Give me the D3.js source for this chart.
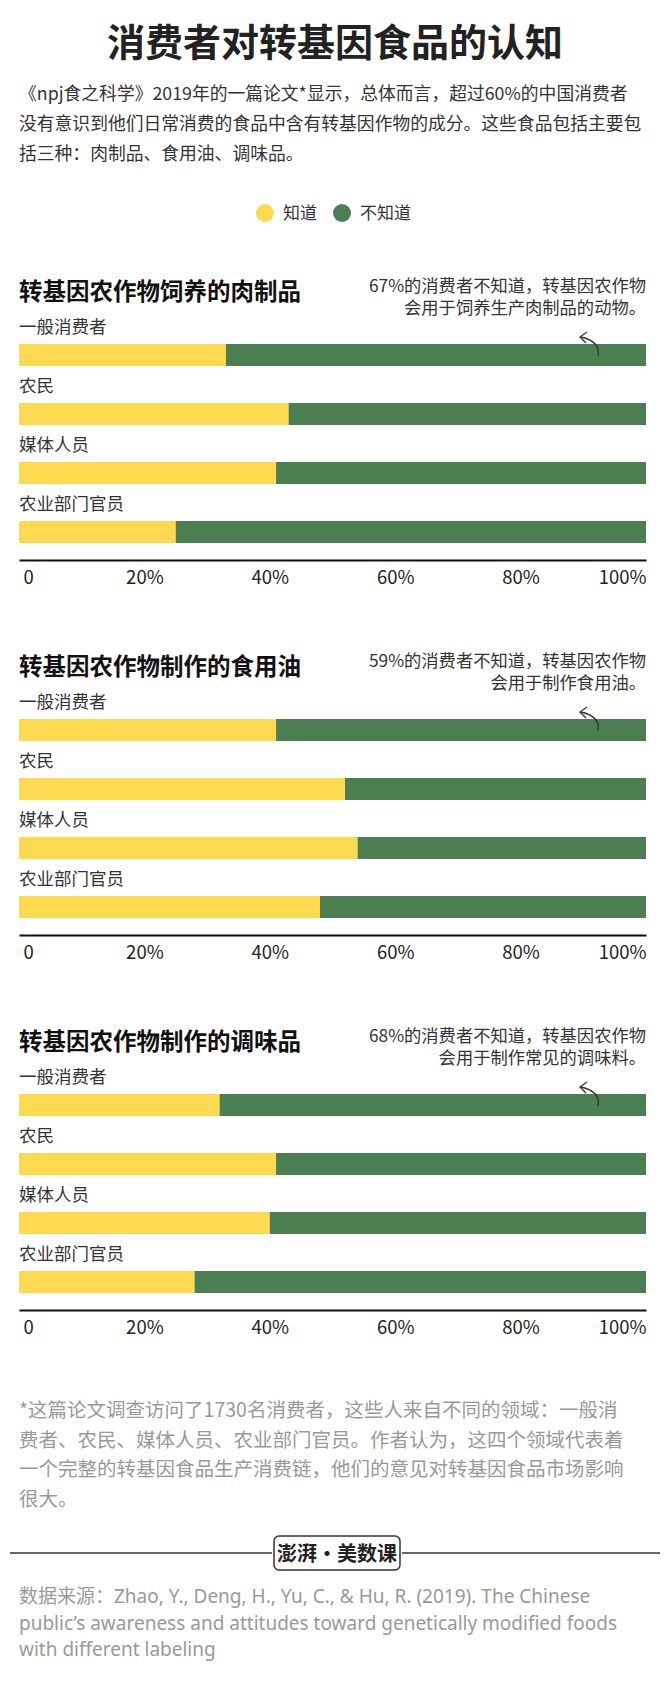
<!DOCTYPE html>
<html><head><meta charset="utf-8">
<script src="https://cdn.jsdelivr.net/npm/d3@7"></script>
<style>body{margin:0;background:#fff}text{font-family:"Noto Sans CJK SC","Noto Sans",sans-serif}.lat{font-family:"Noto Sans","Noto Sans CJK SC",sans-serif}</style>
</head><body><svg id="c" width="670" height="1699"></svg>
<script>
const groups = ["一般消费者", "农民", "媒体人员", "农业部门官员"];
const sectionTitles = ["转基因农作物饲养的肉制品", "转基因农作物制作的食用油", "转基因农作物制作的调味品"];
const notes = [
  ["67%的消费者不知道，转基因农作物", "会用于饲养生产肉制品的动物。"],
  ["59%的消费者不知道，转基因农作物", "会用于制作食用油。"],
  ["68%的消费者不知道，转基因农作物", "会用于制作常见的调味料。"]
];
const knowMeat = [33, 43, 41, 25];
const knowOil = [41, 52, 54, 48];
const knowSeasoning = [32, 41, 40, 28];
const ticks = [0, 20, 40, 60, 80, 100];

const YEL = "#fdda4f", GRN = "#4b7f52";
const svg = d3.select("#c");
const left = 19, right = 646;

svg.append("text").attr("x", 335).attr("y", 56).attr("text-anchor", "middle")
  .attr("font-size", 38).attr("font-weight", 700).attr("fill", "#222").text("消费者对转基因食品的认知");

const intro = ["《npj食之科学》2019年的一篇论文*显示，总体而言，超过60%的中国消费者",
  "没有意识到他们日常消费的食品中含有转基因作物的成分。这些食品包括主要包",
  "括三种：肉制品、食用油、调味品。"];
intro.forEach((t, i) => svg.append("text").attr("x", left).attr("y", 100 + i * 30)
  .attr("font-size", 17.8).attr("fill", "#333").text(t));

[[265, YEL, "知道"], [342, GRN, "不知道"]].forEach(([x, c, t]) => {
  svg.append("circle").attr("cx", x).attr("cy", 213).attr("r", 9).attr("fill", c);
  svg.append("text").attr("x", x + 18).attr("y", 219).attr("font-size", 17).attr("fill", "#333").text(t);
});

const x = d3.scaleLinear().domain([0, 100]).range([left, right]);

[knowMeat, knowOil, knowSeasoning].forEach((vals, s) => {
  const g = svg.append("g").attr("transform", `translate(0,${s * 375})`);
  g.append("text").attr("x", left).attr("y", 300).attr("font-size", 23.5).attr("font-weight", 700)
    .attr("fill", "#111").text(sectionTitles[s]);
  notes[s].forEach((t, i) => g.append("text").attr("x", right).attr("y", 292 + i * 22)
    .attr("text-anchor", "end").attr("font-size", 17.3).attr("fill", "#333").text(t));
  const y = d3.scaleBand().domain(groups).range([321, 557]).paddingInner(0);
  groups.forEach((grp, i) => {
    const yy = y(grp);
    g.append("text").attr("x", left).attr("y", yy + 12).attr("font-size", 17.5).attr("fill", "#333").text(grp);
    g.append("rect").attr("x", x(0)).attr("y", yy + 23).attr("width", x(vals[i]) - x(0)).attr("height", 22).attr("fill", YEL);
    g.append("rect").attr("x", x(vals[i])).attr("y", yy + 23).attr("width", x(100) - x(vals[i])).attr("height", 22).attr("fill", GRN);
  });
  // arrow
  g.append("path").attr("d", "M598,356 C600,346 594,340 581,337").attr("fill", "none").attr("stroke", "#333").attr("stroke-width", 1.3);
  g.append("path").attr("d", "M587,332 L580,337 L586,343").attr("fill", "none").attr("stroke", "#333").attr("stroke-width", 1.3);
  // axis
  const ax = g.append("g").attr("transform", "translate(0,560)")
    .call(d3.axisBottom(x).tickValues(ticks).tickSize(0).tickPadding(11).tickFormat(d => d === 0 ? "0" : d + "%"));
  ax.select(".domain").attr("stroke", "#111").attr("stroke-width", 2);
  ax.selectAll("text").attr("font-size", 18.5).attr("fill", "#222")
    .attr("text-anchor", d => d === 0 ? "start" : d === 100 ? "end" : "middle")
    .attr("dx", d => d === 0 ? 4 : 0);
});

const foot = ["*这篇论文调查访问了1730名消费者，这些人来自不同的领域：一般消",
  "费者、农民、媒体人员、农业部门官员。作者认为，这四个领域代表着",
  "一个完整的转基因食品生产消费链，他们的意见对转基因食品市场影响", "很大。"];
foot.forEach((t, i) => svg.append("text").attr("x", left).attr("y", 1417 + i * 29.5)
  .attr("font-size", 19.5).attr("fill", "#999").text(t));

svg.append("line").attr("x1", 10).attr("x2", 272).attr("y1", 1553).attr("y2", 1553).attr("stroke", "#333").attr("stroke-width", 1.3);
svg.append("line").attr("x1", 402).attr("x2", 660).attr("y1", 1553).attr("y2", 1553).attr("stroke", "#333").attr("stroke-width", 1.3);
svg.append("rect").attr("x", 274).attr("y", 1536).attr("width", 126).attr("height", 34).attr("rx", 5)
  .attr("fill", "#fff").attr("stroke", "#333").attr("stroke-width", 1.5);
svg.append("text").attr("x", 337).attr("y", 1561).attr("text-anchor", "middle").attr("font-size", 20)
  .attr("font-weight", 700).attr("fill", "#222").text("澎湃·美数课");

const src = ["数据来源：Zhao, Y., Deng, H., Yu, C., & Hu, R. (2019). The Chinese",
  "public’s awareness and attitudes toward genetically modified foods", "with different labeling"];
src.forEach((t, i) => svg.append("text").attr("class", "lat").attr("x", left).attr("y", 1603 + i * 26.5)
  .attr("font-size", 19).attr("fill", "#999").text(t));
</script></body></html>
